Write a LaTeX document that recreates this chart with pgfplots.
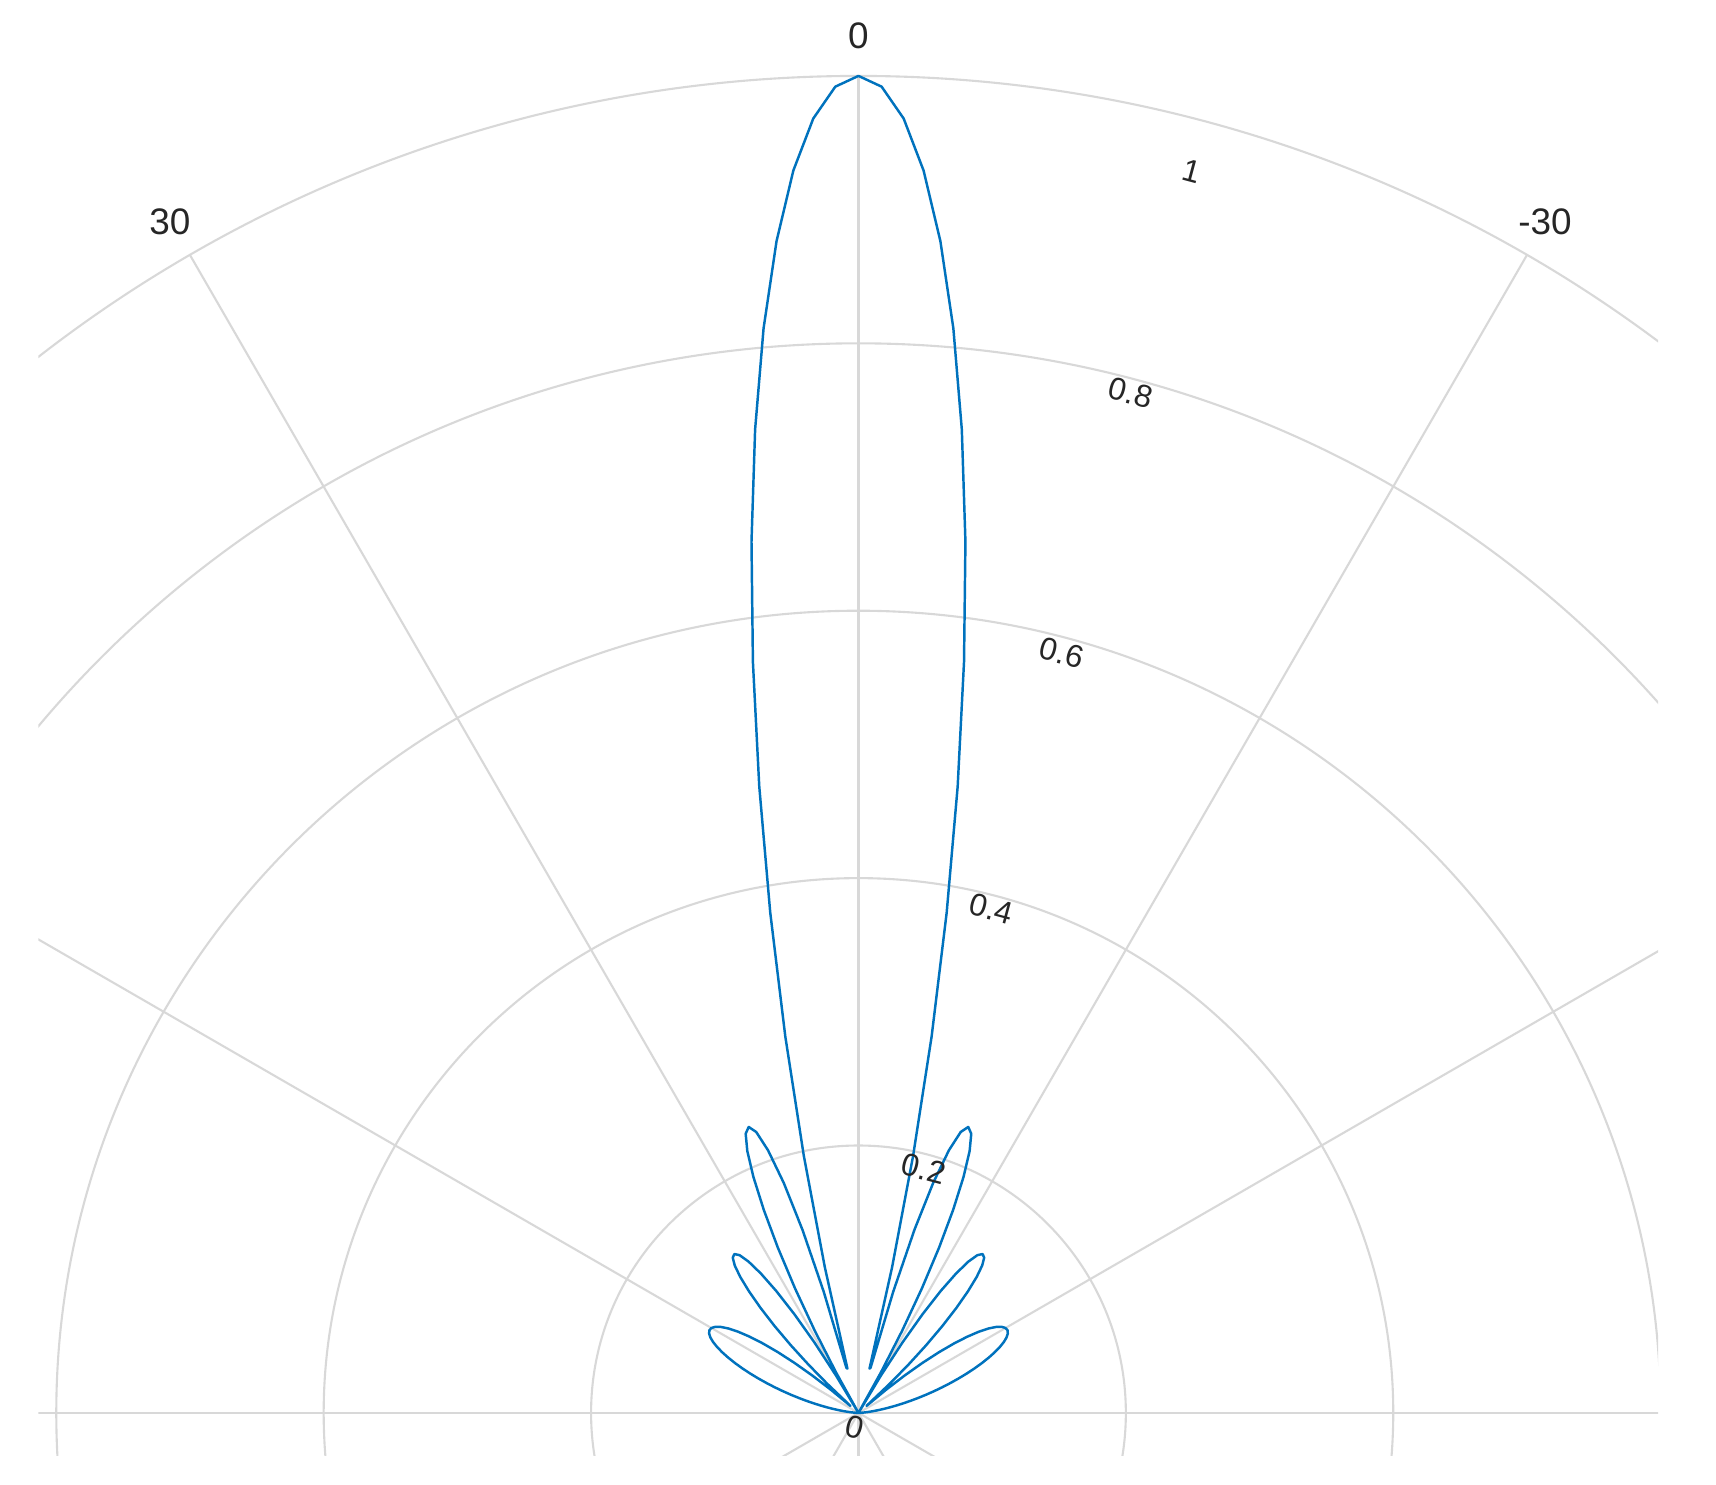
\documentclass[border=0pt]{standalone}
\usepackage{pgfplots}
\pgfplotsset{compat=1.18}
\usepackage{fontspec}
\setmainfont{Liberation Sans}
\definecolor{mblue}{RGB}{0,114,189}
\definecolor{mgrid}{RGB}{216,216,216}
\definecolor{mtext}{RGB}{38,38,38}
\newcommand\thfont{\fontsize{10.5}{12}\selectfont}
\newcommand\rfont{\fontsize{9}{11}\selectfont}

\begin{document}
\begin{tikzpicture}
\useasboundingbox (0,0) rectangle (17.16,14.85);
\begin{scope}
\clip (0.383,0.294) rectangle (16.58,14.85);
\begin{axis}[
  at={(0,0)}, anchor=south west,
  scale only axis, width=17.16cm, height=14.85cm,
  xmin=-0.6421, xmax=0.6414, ymin=-0.0539, ymax=1.0568,
  hide axis, clip=false,
]
% grid: rings and spokes
\draw[mgrid, line width=0.6pt] (axis cs:0,0) circle[radius=2.6739cm];
\draw[mgrid, line width=0.6pt] (axis cs:0,0) circle[radius=5.3479cm];
\draw[mgrid, line width=0.6pt] (axis cs:0,0) circle[radius=8.0218cm];
\draw[mgrid, line width=0.6pt] (axis cs:0,0) circle[radius=10.6958cm];
\draw[mgrid, line width=0.6pt] (axis cs:0,0) circle[radius=13.3697cm];
\addplot[mgrid, line width=0.6pt] coordinates {(0,-1) (0,1)};
\addplot[mgrid, line width=0.6pt] coordinates {(-0.5,0.866025) (0.5,-0.866025)};
\addplot[mgrid, line width=0.6pt] coordinates {(0.5,0.866025) (-0.5,-0.866025)};
\addplot[mgrid, line width=0.6pt] coordinates {(-0.866025,0.5) (0.866025,-0.5)};
\addplot[mgrid, line width=0.6pt] coordinates {(0.866025,0.5) (-0.866025,-0.5)};
\addplot[mgrid, line width=0.6pt] coordinates {(-1,0) (1,0)};
% pattern: (angle from +x axis in degrees, magnitude); 90 = broadside (top)
\addplot[mblue, line width=0.7pt, line join=round, data cs=polar] coordinates {
(0,0.0000) (1,0.0002) (2,0.0010) (3,0.0022) (4,0.0038) (5,0.0060)
(6,0.0086) (7,0.0117) (8,0.0153) (9,0.0193) (10,0.0237) (11,0.0286)
(12,0.0339) (13,0.0396) (14,0.0456) (15,0.0520) (16,0.0586) (17,0.0654)
(18,0.0723) (19,0.0793) (20,0.0863) (21,0.0931) (22,0.0997) (23,0.1059)
(24,0.1116) (25,0.1167) (26,0.1210) (27,0.1243) (28,0.1265) (29,0.1275)
(30,0.1270) (31,0.1250) (32,0.1213) (33,0.1159) (34,0.1086) (35,0.0994)
(36,0.0884) (37,0.0755) (38,0.0608) (39,0.0445) (40,0.0268) (41,0.0080)
(42,0.0117) (43,0.0318) (44,0.0519) (45,0.0716) (46,0.0903) (47,0.1074)
(48,0.1224) (49,0.1348) (50,0.1440) (51,0.1494) (52,0.1508) (53,0.1477)
(54,0.1399) (55,0.1273) (56,0.1100) (57,0.0881) (58,0.0621) (59,0.0325)
(60,0.0000) (61,0.0344) (62,0.0696) (63,0.1044) (64,0.1376) (65,0.1676)
(66,0.1932) (67,0.2128) (68,0.2252) (69,0.2291) (70,0.2236) (71,0.2077)
(72,0.1810) (73,0.1432) (74,0.0943) (75,0.0350) (76,0.0341) (77,0.1118)
(78,0.1966) (79,0.2867) (80,0.3800) (81,0.4743) (82,0.5673) (83,0.6565)
(84,0.7396) (85,0.8143) (86,0.8785) (87,0.9305) (88,0.9687) (89,0.9921)
(90,1.0000)
(91,0.9921) (92,0.9687) (93,0.9305) (94,0.8785) (95,0.8143) (96,0.7396)
(97,0.6565) (98,0.5673) (99,0.4743) (100,0.3800) (101,0.2867) (102,0.1966)
(103,0.1118) (104,0.0341) (105,0.0350) (106,0.0943) (107,0.1432) (108,0.1810)
(109,0.2077) (110,0.2236) (111,0.2291) (112,0.2252) (113,0.2128) (114,0.1932)
(115,0.1676) (116,0.1376) (117,0.1044) (118,0.0696) (119,0.0344) (120,0.0000)
(121,0.0325) (122,0.0621) (123,0.0881) (124,0.1100) (125,0.1273) (126,0.1399)
(127,0.1477) (128,0.1508) (129,0.1494) (130,0.1440) (131,0.1348) (132,0.1224)
(133,0.1074) (134,0.0903) (135,0.0716) (136,0.0519) (137,0.0318) (138,0.0117)
(139,0.0080) (140,0.0268) (141,0.0445) (142,0.0608) (143,0.0755) (144,0.0884)
(145,0.0994) (146,0.1086) (147,0.1159) (148,0.1213) (149,0.1250) (150,0.1270)
(151,0.1275) (152,0.1265) (153,0.1243) (154,0.1210) (155,0.1167) (156,0.1116)
(157,0.1059) (158,0.0997) (159,0.0931) (160,0.0863) (161,0.0793) (162,0.0723)
(163,0.0654) (164,0.0586) (165,0.0520) (166,0.0456) (167,0.0396) (168,0.0339)
(169,0.0286) (170,0.0237) (171,0.0193) (172,0.0153) (173,0.0117) (174,0.0086)
(175,0.0060) (176,0.0038) (177,0.0022) (178,0.0010) (179,0.0002) (180,0.0000)
};
% theta labels
\node[text=mtext, font=\thfont] at (axis cs:0,1.030) {0};
\node[text=mtext, font=\thfont] at (axis cs:-0.5150,0.8908) {30};
\node[text=mtext, font=\thfont] at (axis cs:0.5135,0.8908) {-30};
% radial labels
\node[text=mtext, rotate=-15, font=\rfont] at (axis cs:-0.0029,-0.0107) {0};
\node[text=mtext, rotate=-15, font=\rfont] at (axis cs:0.0489,0.1825) {0.2};
\node[text=mtext, rotate=-15, font=\rfont] at (axis cs:0.0995,0.3770) {0.4};
\node[text=mtext, rotate=-15, font=\rfont] at (axis cs:0.1522,0.5685) {0.6};
\node[text=mtext, rotate=-15, font=\rfont] at (axis cs:0.2038,0.7630) {0.8};
\node[text=mtext, rotate=-15, font=\rfont] at (axis cs:0.2492,0.9284) {1};
\end{axis}
\end{scope}
\end{tikzpicture}
\end{document}
